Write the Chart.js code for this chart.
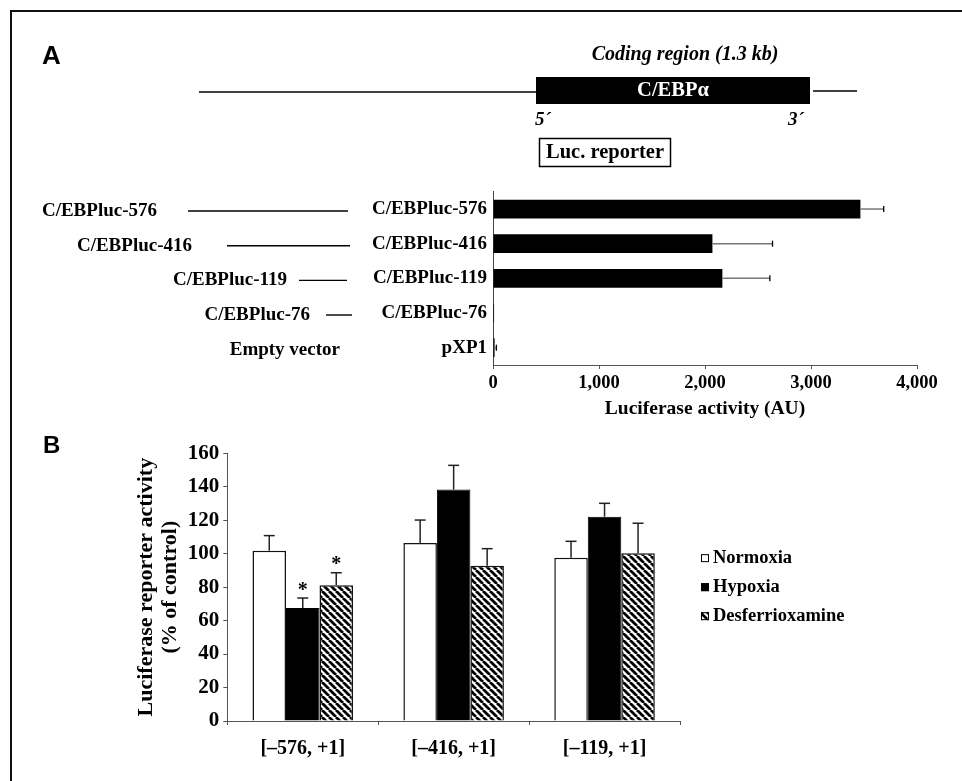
<!DOCTYPE html>
<html><head><meta charset="utf-8">
<script src="https://cdn.jsdelivr.net/npm/chart.js@4.4.1/dist/chart.umd.min.js"></script>
<style>
html,body{margin:0;padding:0;background:#fff;width:962px;height:781px;overflow:hidden;}
#frame{position:absolute;left:10px;top:10px;width:2000px;height:2000px;border-left:2px solid #111;border-top:2px solid #111;}
canvas{position:absolute;left:0;}
#cA{top:0;} #cB{top:430px;}
</style></head><body>
<div id="frame"></div>
<canvas id="cA" width="962" height="430"></canvas>
<canvas id="cB" width="962" height="351"></canvas>
<script>
// ---------- Panel A data ----------
const constructs = ['C/EBPluc-576', 'C/EBPluc-416', 'C/EBPluc-119', 'C/EBPluc-76', 'pXP1'];
const constructNames = ['C/EBPluc-576', 'C/EBPluc-416', 'C/EBPluc-119', 'C/EBPluc-76', 'Empty vector'];
const activity = [3466, 2070, 2164, 10, 15];
const activityErr = [220, 567, 448, 0, 17];
const activityTicks = [0, 1000, 2000, 3000, 4000];

// ---------- Panel B data ----------
const promoterGroups = ['[\u2013576, +1]', '[\u2013416, +1]', '[\u2013119, +1]'];
const normoxia = [101.8, 106.4, 97.6];
const normoxiaErr = [9.0, 13.7, 9.8];
const hypoxia = [67.5, 138.3, 122.1];
const hypoxiaErr = [6.0, 14.5, 8.0];
const desferrioxamine = [81.1, 92.8, 100.2];
const desferrioxamineErr = [7.5, 10.2, 18.0];
const hypoxiaSig = [true, false, false];
const desferrioxamineSig = [true, false, false];
const reporterTicks = [0, 20, 40, 60, 80, 100, 120, 140, 160];

const SERIF = '"Liberation Serif", "Times New Roman", serif';
const SANS = '"Liberation Sans", Arial, sans-serif';
Chart.defaults.font.family = SERIF;
Chart.defaults.color = '#000';

function hatchPattern() {
  const c = document.createElement('canvas');
  c.width = c.height = 7;
  const g = c.getContext('2d');
  g.fillStyle = '#fff'; g.fillRect(0, 0, 7, 7);
  g.strokeStyle = '#000'; g.lineWidth = 2.8;
  g.beginPath();
  for (const o of [-7, 0, 7]) { g.moveTo(o, 0); g.lineTo(o + 7, 7); }
  g.stroke();
  return g.createPattern(c, 'repeat');
}
const hatch = hatchPattern();

function seg(ctx, x0, y0, x1, y1) { ctx.beginPath(); ctx.moveTo(x0, y0); ctx.lineTo(x1, y1); ctx.stroke(); }

// layout of the construct schematic (decoration)
const labelRight = [157, 192, 287, 310, 340];
const lineStart = [188, 227, 299, 326, null];
const lineEnd = [348, 350, 347, 352, null];

const schematicPlugin = {
  id: 'schematic',
  afterDraw(chart) {
    const ctx = chart.ctx, ys = chart.scales.y;
    ctx.save();
    ctx.fillStyle = '#000'; ctx.strokeStyle = '#000';
    ctx.font = `bold 26px ${SANS}`; ctx.textAlign = 'left'; ctx.textBaseline = 'alphabetic';
    ctx.fillText('A', 42, 64);
    ctx.lineWidth = 1.6;
    seg(ctx, 199, 92, 536, 92);
    seg(ctx, 813, 91, 857, 91);
    ctx.fillRect(536, 77, 274, 27);
    ctx.textAlign = 'center'; ctx.textBaseline = 'middle';
    ctx.font = `italic bold 20px ${SERIF}`;
    ctx.fillText('Coding region (1.3 kb)', 685, 55);
    ctx.fillStyle = '#fff'; ctx.font = `bold 20.5px ${SERIF}`;
    ctx.fillText('C/EBP\u03B1', 673, 91);
    ctx.fillStyle = '#000'; ctx.font = `italic bold 19px ${SERIF}`; ctx.textAlign = 'left';
    ctx.fillText('5\u00B4', 535, 120); ctx.fillText('3\u00B4', 788, 120);
    ctx.lineWidth = 1.5;
    ctx.strokeRect(539.5, 138.5, 131, 28);
    ctx.font = `bold 20.5px ${SERIF}`; ctx.textAlign = 'center';
    ctx.fillText('Luc. reporter', 605, 153);
    ctx.font = `bold 19px ${SERIF}`; ctx.textAlign = 'right';
    ctx.lineWidth = 1.4;
    constructNames.forEach((name, i) => {
      const y = ys.getPixelForValue(i) + 2;
      ctx.fillText(name, labelRight[i], y);
      if (lineStart[i] != null) seg(ctx, lineStart[i], y, lineEnd[i], y);
    });
    ctx.restore();
  }
};

const errorA = {
  id: 'errorA',
  afterDatasetsDraw(chart) {
    const ctx = chart.ctx, xs = chart.scales.x, meta = chart.getDatasetMeta(0);
    ctx.save();
    activity.forEach((v, i) => {
      if (!activityErr[i]) return;
      const y = meta.data[i].y;
      const x0 = xs.getPixelForValue(v), x1 = xs.getPixelForValue(v + activityErr[i]);
      ctx.strokeStyle = '#777'; ctx.lineWidth = 1.5; seg(ctx, x0, y, x1, y);
      ctx.strokeStyle = '#000'; ctx.lineWidth = 1.3; seg(ctx, x1, y - 3, x1, y + 3);
    });
    ctx.restore();
  }
};

new Chart(document.getElementById('cA'), {
  type: 'bar',
  data: { labels: constructs, datasets: [{ label: 'Luciferase activity', data: activity, backgroundColor: '#000', borderWidth: 0, barPercentage: 0.54, categoryPercentage: 1 }] },
  options: {
    indexAxis: 'y', responsive: false, animation: false, devicePixelRatio: 1,
    layout: { padding: { left: 0, right: 45, top: 191.7, bottom: 0 } },
    plugins: { legend: { display: false }, tooltip: { enabled: false } },
    scales: {
      x: {
        type: 'linear', min: activityTicks[0], max: activityTicks[activityTicks.length - 1],
        afterBuildTicks: s => { s.ticks = activityTicks.map(v => ({ value: v })); },
        ticks: { callback: v => v.toLocaleString('en-US'), font: { weight: 'bold', size: 18.5 }, color: '#000', padding: 3, maxRotation: 0 },
        grid: { display: true, drawOnChartArea: false, drawTicks: true, tickLength: 4, color: '#555' },
        border: { display: true, color: '#555', width: 1 },
        title: { display: true, text: 'Luciferase activity (AU)', font: { weight: 'bold', size: 19.5 }, color: '#000', padding: { top: 0, bottom: 9 } },
        afterFit: s => { s.height = 65; }
      },
      y: {
        ticks: { font: { weight: 'bold', size: 19 }, color: '#000', padding: 6, autoSkip: false },
        grid: { display: false, drawTicks: false },
        border: { display: true, color: '#444', width: 1 },
        afterFit: s => { s.width = 493; }
      }
    }
  },
  plugins: [errorA, schematicPlugin]
});

// ---------- Panel B ----------
const errB = [normoxiaErr, hypoxiaErr, desferrioxamineErr];
const sigB = [null, hypoxiaSig, desferrioxamineSig];

const errorB = {
  id: 'errorB',
  afterDatasetsDraw(chart) {
    const ctx = chart.ctx, ys = chart.scales.y;
    ctx.save();
    chart.data.datasets.forEach((ds, d) => {
      const meta = chart.getDatasetMeta(d);
      ds.data.forEach((v, i) => {
        const x = meta.data[i].x;
        const y0 = ys.getPixelForValue(v), y1 = ys.getPixelForValue(v + errB[d][i]);
        ctx.strokeStyle = '#222'; ctx.lineWidth = 1.5;
        seg(ctx, x, y0, x, y1);
        seg(ctx, x - 5.5, y1, x + 5.5, y1);
        if (sigB[d] && sigB[d][i]) {
          ctx.fillStyle = '#000'; ctx.font = `bold 20px ${SERIF}`;
          ctx.textAlign = 'center'; ctx.textBaseline = 'alphabetic';
          ctx.fillText('*', x, y1 - 2.5);
        }
      });
    });
    ctx.restore();
  }
};

const legendB = {
  id: 'legendB',
  afterDraw(chart) {
    const ctx = chart.ctx, a = chart.chartArea;
    const cy0 = (a.top + a.bottom) / 2;
    ctx.save();
    ctx.fillStyle = '#000';
    ctx.font = `bold 24px ${SANS}`; ctx.textAlign = 'left'; ctx.textBaseline = 'alphabetic';
    ctx.fillText('B', 43, 23);
    chart.data.datasets.forEach((ds, i) => {
      const cy = cy0 + (i - 1) * 29;
      const bx = a.right + 21;
      ctx.fillStyle = ds.backgroundColor; ctx.fillRect(bx, cy - 4, 8, 8);
      ctx.strokeStyle = '#000'; ctx.lineWidth = 1; ctx.strokeRect(bx + 0.5, cy - 3.5, 7, 7);
      ctx.fillStyle = '#000'; ctx.font = `bold 18.5px ${SERIF}`; ctx.textBaseline = 'middle';
      ctx.fillText(ds.label, bx + 12, cy);
    });
    ctx.restore();
  }
};

new Chart(document.getElementById('cB'), {
  type: 'bar',
  data: {
    labels: promoterGroups,
    datasets: [
      { label: 'Normoxia', data: normoxia, backgroundColor: '#fff', borderColor: '#111', borderWidth: 1.5 },
      { label: 'Hypoxia', data: hypoxia, backgroundColor: '#000', borderColor: '#000', borderWidth: 1 },
      { label: 'Desferrioxamine', data: desferrioxamine, backgroundColor: hatch, borderColor: '#111', borderWidth: 1.5 }
    ]
  },
  options: {
    responsive: false, animation: false, devicePixelRatio: 1,
    datasets: { bar: { categoryPercentage: 0.666, barPercentage: 1 } },
    layout: { padding: { left: 0, right: 282, top: 23.3, bottom: 0 } },
    plugins: { legend: { display: false }, tooltip: { enabled: false } },
    scales: {
      x: {
        ticks: { font: { weight: 'bold', size: 20 }, color: '#000', padding: 12, maxRotation: 0 },
        grid: { display: true, drawOnChartArea: false, drawTicks: true, tickLength: 4, offset: true, color: '#555' },
        border: { display: true, color: '#555', width: 1 },
        afterFit: s => { s.height = 60; }
      },
      y: {
        min: reporterTicks[0], max: reporterTicks[reporterTicks.length - 1],
        afterBuildTicks: s => { s.ticks = reporterTicks.map(v => ({ value: v })); },
        ticks: { font: { weight: 'bold', size: 21 }, color: '#000', padding: 4 },
        grid: { display: true, drawOnChartArea: false, drawTicks: true, tickLength: 4, color: '#555' },
        border: { display: true, color: '#555', width: 1 },
        title: { display: true, text: ['Luciferase reporter activity', '(% of control)'], font: { weight: 'bold', size: 22, lineHeight: '24px' }, color: '#000', padding: { top: 134, bottom: 0 } },
        afterFit: s => { s.width = 227.3; }
      }
    }
  },
  plugins: [errorB, legendB]
});
</script>
</body></html>
